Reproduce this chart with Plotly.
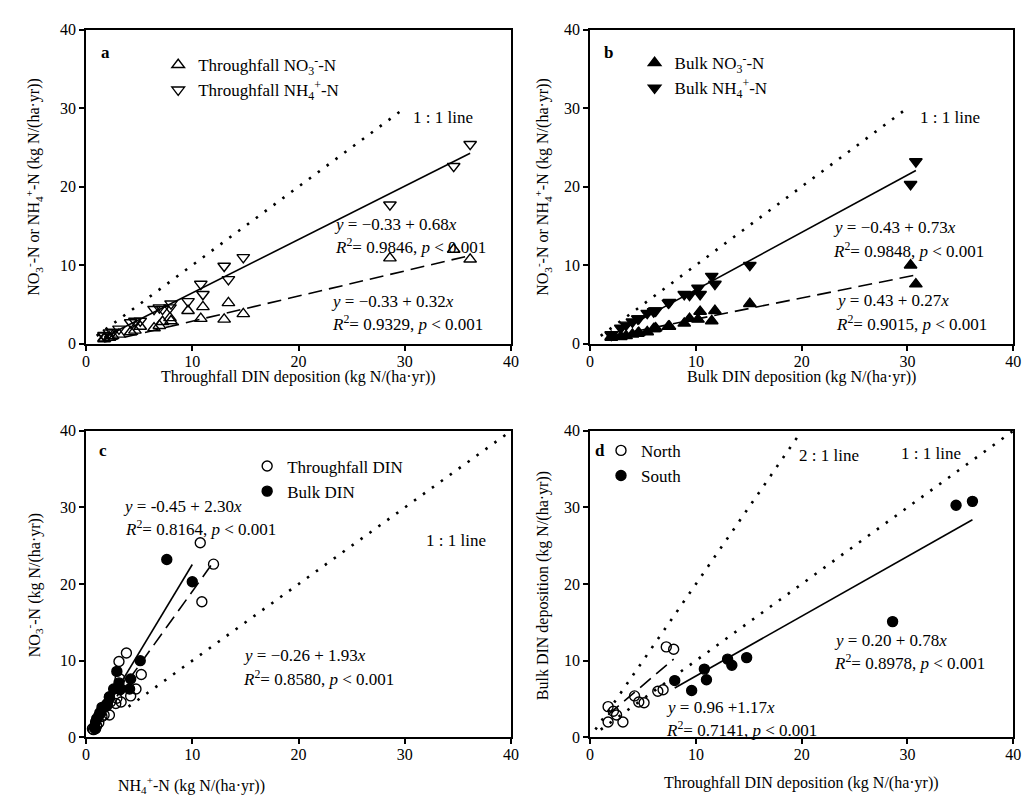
import numpy as np
import plotly.graph_objects as go

# ---------------- data ----------------
region   = ["S","S","S","S","S","S","S","S","S","S",
            "N","N","N","N","N","N","N","N","N","N","N","N"]
tf_no3   = [10.75,12.0,10.9,3.8,3.1,5.2,3.2,4.7,2.9,4.2,
            2.8,3.3,2.0,2.3,1.5,2.2,1.7,0.6,0.7,0.8,1.0,1.2]
tf_nh4   = [25.4,22.6,17.7,11.0,9.9,8.2,7.6,6.3,5.1,5.4,
            4.4,4.6,4.4,4.6,2.7,2.9,2.9,1.1,1.0,1.4,1.5,1.9]
bulk_no3 = [7.6,10.0,5.1,4.1,3.1,3.2,2.6,2.2,2.2,1.9,
            4.2,2.9,1.9,2.0,1.5,1.3,1.4,1.2,0.8,1.0,0.9,0.9]
bulk_nh4 = [23.2,20.3,10.0,6.3,7.1,6.2,6.3,5.3,5.2,4.2,
            7.6,8.6,4.1,4.2,3.9,3.2,3.2,2.8,1.2,2.4,2.0,1.1]

# regression coefficients (intercept, slope) printed on the chart
fit_a_nh4 = (-0.33, 0.68)
fit_a_no3 = (-0.33, 0.32)
fit_b_nh4 = (-0.43, 0.73)
fit_b_no3 = (0.43, 0.27)
fit_c_bulk = (-0.45, 2.30)
fit_c_tf = (-0.26, 1.93)
fit_d_south = (0.20, 0.78)
fit_d_north = (0.96, 1.17)

tick_vals = [0, 10, 20, 30, 40]

# ---------------------------------------------------------------
tf_no3 = np.array(tf_no3); tf_nh4 = np.array(tf_nh4)
bulk_no3 = np.array(bulk_no3); bulk_nh4 = np.array(bulk_nh4)
region = np.array(region)
tf_din = tf_no3 + tf_nh4
bulk_din = bulk_no3 + bulk_nh4

W, H = 1035, 805
FONT = "Liberation Serif"
def P(x): return x / W
def Q(y): return 1 - y / H

fig = go.Figure()

DOT = "2.5px,8.5px"
DASH = "14px,7px"

def fit_line(coef, xs, xa, ya, dash):
    x0, x1 = float(np.min(xs)), float(np.max(xs))
    xx = np.array([x0, x1])
    fig.add_trace(go.Scatter(x=xx, y=coef[0] + coef[1] * xx, mode="lines",
                             line=dict(color="black", width=1.6, dash=dash),
                             xaxis=xa, yaxis=ya, showlegend=False, hoverinfo="skip"))

def ratio_line(r, xs, xa, ya):
    xx = np.array(xs)
    fig.add_trace(go.Scatter(x=xx, y=r * xx, mode="lines",
                             line=dict(color="black", width=2.6, dash=DOT),
                             xaxis=xa, yaxis=ya, showlegend=False, hoverinfo="skip"))

def pts(x, y, sym, xa, ya, name, legend, size=11, lw=1.4):
    fig.add_trace(go.Scatter(x=x, y=y, mode="markers", name=name,
                             marker=dict(symbol=sym, size=size, color="black",
                                         line=dict(color="black", width=lw)),
                             xaxis=xa, yaxis=ya, legend=legend))

# panel a
ratio_line(1, [1, 30], "x", "y")
fit_line(fit_a_nh4, tf_din, "x", "y", "solid")
fit_line(fit_a_no3, tf_din, "x", "y", DASH)
pts(tf_din, tf_no3, "triangle-up-open", "x", "y", "Throughfall NO<sub>3</sub><sup>-</sup>-N", "legend")
pts(tf_din, tf_nh4, "triangle-down-open", "x", "y", "Throughfall NH<sub>4</sub><sup>+</sup>-N", "legend")

# panel b
ratio_line(1, [1, 30], "x2", "y2")
fit_line(fit_b_nh4, bulk_din, "x2", "y2", "solid")
fit_line(fit_b_no3, bulk_din, "x2", "y2", DASH)
pts(bulk_din, bulk_no3, "triangle-up", "x2", "y2", "Bulk NO<sub>3</sub><sup>-</sup>-N", "legend2")
pts(bulk_din, bulk_nh4, "triangle-down", "x2", "y2", "Bulk NH<sub>4</sub><sup>+</sup>-N", "legend2")

# panel c
ratio_line(1, [4, 40], "x3", "y3")
fit_line(fit_c_bulk, bulk_no3, "x3", "y3", "solid")
fit_line(fit_c_tf, tf_no3, "x3", "y3", DASH)
pts(tf_no3, tf_nh4, "circle-open", "x3", "y3", "Throughfall DIN", "legend3", size=10)
pts(bulk_no3, bulk_nh4, "circle", "x3", "y3", "Bulk DIN", "legend3", size=10)

# panel d
ratio_line(1, [1, 40], "x4", "y4")
ratio_line(2, [0.5, 20], "x4", "y4")
north = region == "N"; south = region == "S"
fit_line(fit_d_south, tf_din[south], "x4", "y4", "solid")
fit_line(fit_d_north, tf_din[north], "x4", "y4", DASH)
pts(tf_din[north], bulk_din[north], "circle-open", "x4", "y4", "North", "legend4", size=10)
pts(tf_din[south], bulk_din[south], "circle", "x4", "y4", "South", "legend4", size=10)

axis_common = dict(range=[0, 40], tickvals=tick_vals, ticks="outside", ticklen=5,
                   tickwidth=1.5, tickcolor="black", showline=True, linewidth=1.6,
                   linecolor="black", mirror=True, showgrid=False, zeroline=False,
                   tickfont=dict(family=FONT, size=16, color="black"))
xaxis_extra = dict(ticklabelstandoff=-3)

xd_left = [P(83), P(513)]
xd_right = [P(593), P(1021)]
yd_top = [Q(343), Q(22)]
yd_bot = [Q(745), Q(432)]

fig.update_layout(
    xaxis=dict(domain=xd_left, anchor="y", **axis_common, **xaxis_extra),
    yaxis=dict(domain=yd_top, anchor="x", **axis_common),
    xaxis2=dict(domain=xd_right, anchor="y2", **axis_common, **xaxis_extra),
    yaxis2=dict(domain=yd_top, anchor="x2", **axis_common),
    xaxis3=dict(domain=xd_left, anchor="y3", **axis_common, **xaxis_extra),
    yaxis3=dict(domain=yd_bot, anchor="x3", **axis_common),
    xaxis4=dict(domain=xd_right, anchor="y4", **axis_common, **xaxis_extra),
    yaxis4=dict(domain=yd_bot, anchor="x4", **axis_common),
)

leg_common = dict(bgcolor="rgba(0,0,0,0)", font=dict(family=FONT, size=17, color="black"),
                  xanchor="left", yanchor="top", tracegroupgap=0, itemclick=False)
fig.update_layout(
    legend=dict(x=P(156), y=Q(40), **leg_common),
    legend2=dict(x=P(638), y=Q(38), **leg_common),
    legend3=dict(x=P(246), y=Q(450), **leg_common),
    legend4=dict(x=P(604), y=Q(434), **leg_common),
)

ann = []
def A(text, x, y, size=17, anchor="left", angle=0):
    ann.append(dict(text=text, x=P(x), y=Q(y), xref="paper", yref="paper",
                    xanchor=anchor, yanchor="middle", showarrow=False, textangle=angle,
                    font=dict(family=FONT, size=size, color="black")))

R2 = "<i>R</i><sup>2</sup>= {}, <i>p</i> &lt; 0.001"
# panel a
A("<b>a</b>", 103, 45, anchor="center")
A("1 : 1 line", 412, 112)
A("<i>y</i> = −0.33 + 0.68<i>x</i>", 332, 221)
A(R2.format("0.9846"), 333, 243)
A("<i>y</i> = −0.33 + 0.32<i>x</i>", 329, 300)
A(R2.format("0.9329"), 330, 322)
# panel b
A("<b>b</b>", 612, 45, anchor="center")
A("1 : 1 line", 925, 112)
A("<i>y</i> = −0.43 + 0.73<i>x</i>", 837, 224)
A(R2.format("0.9848"), 837, 247)
A("<i>y</i> = 0.43 + 0.27<i>x</i>", 840, 299)
A(R2.format("0.9015"), 840, 322)
# panel c
A("<b>c</b>", 100, 452, anchor="center")
A("<i>y</i> = -0.45 + 2.30<i>x</i>", 118, 509)
A(R2.format("0.8164"), 120, 531)
A("1 : 1 line", 425, 544)
A("<i>y</i> = −0.26 + 1.93<i>x</i>", 240, 661)
A(R2.format("0.8580"), 240, 684)
# panel d
A("<b>d</b>", 603, 452, anchor="center")
A("2 : 1 line", 802, 457)
A("1 : 1 line", 905, 455)
A("<i>y</i> = 0.20 + 0.78<i>x</i>", 838, 646)
A(R2.format("0.8978"), 838, 668)
A("<i>y</i> = 0.96 +1.17<i>x</i>", 668, 715)
A(R2.format("0.7141"), 668, 737)

# axis titles
ylab_ab = "NO<sub>3</sub><sup>-</sup>-N or NH<sub>4</sub><sup>+</sup>-N (kg N/(ha·yr))"
A("Throughfall DIN deposition (kg N/(ha·yr))", 298, 377, size=16, anchor="center")
A("Bulk DIN deposition (kg N/(ha·yr))", 807, 377, size=16, anchor="center")
A("NH<sub>4</sub><sup>+</sup>-N (kg N/(ha·yr))", 190, 794, size=16, anchor="center")
A("Throughfall DIN deposition (kg N/(ha·yr))", 807, 792, size=16, anchor="center")
A(ylab_ab, 30, 183, size=16, anchor="center", angle=-90)
A(ylab_ab, 545, 183, size=16, anchor="center", angle=-90)
A("NO<sub>3</sub><sup>-</sup>-N (kg N/(ha·yr))", 30, 590, size=16, anchor="center", angle=-90)
A("Bulk DIN deposition (kg N/(ha·yr))", 545, 590, size=16, anchor="center", angle=-90)

fig.update_layout(annotations=ann, width=W, height=H,
                  margin=dict(l=0, r=0, t=0, b=0),
                  paper_bgcolor="white", plot_bgcolor="white",
                  font=dict(family=FONT, color="black"))

fig.write_html("out.html", config={"displayModeBar": False},
               post_script="document.body.style.margin='0';document.body.style.padding='0';")
